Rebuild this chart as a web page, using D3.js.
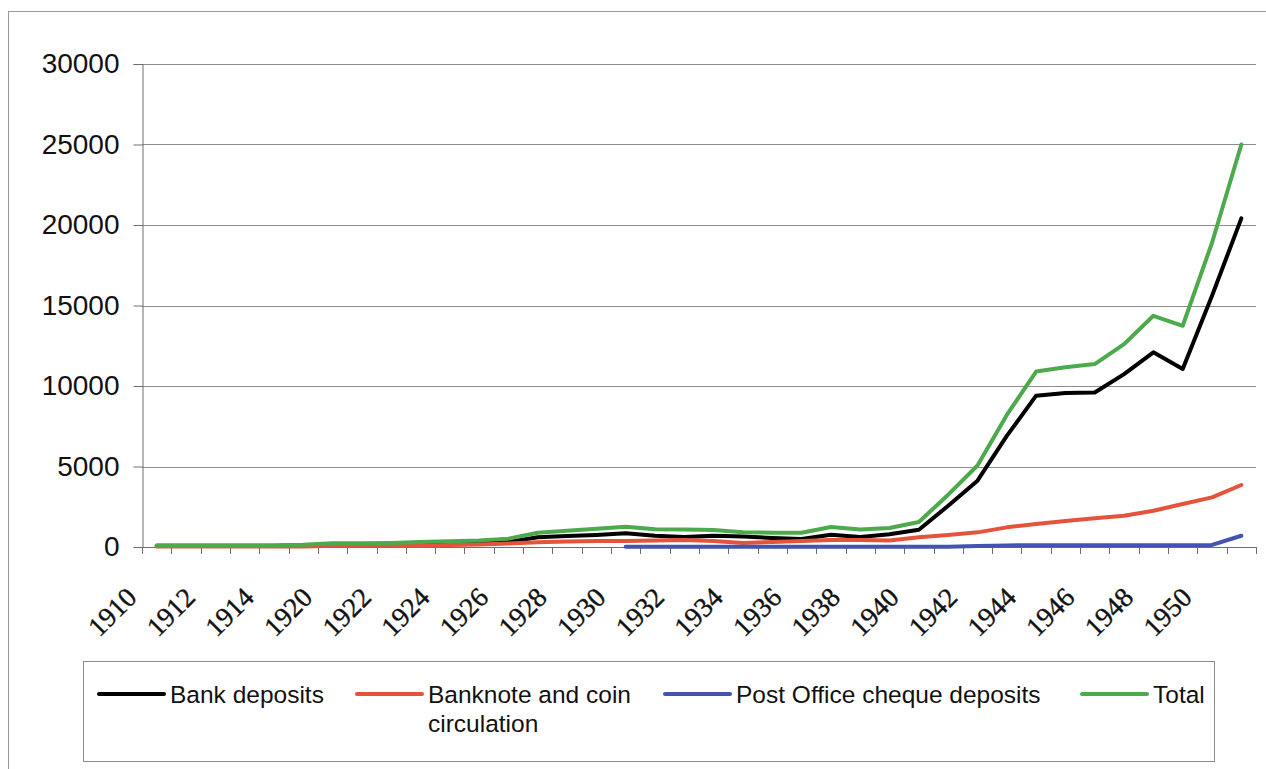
<!DOCTYPE html>
<html>
<head>
<meta charset="utf-8">
<script src="https://cdn.jsdelivr.net/npm/d3@7"></script>
<style>
  html, body { margin: 0; padding: 0; background: #fff; }
  svg { display: block; }
</style>
</head>
<body>
<svg id="chart" width="1266" height="769"></svg>
<script>
// Money supply components, 1910–1951
const categories = [
  "1910","1911","1912","1913","1914","1919","1920","1921","1922","1923",
  "1924","1925","1926","1927","1928","1929","1930","1931","1932","1933",
  "1934","1935","1936","1937","1938","1939","1940","1941","1942","1943",
  "1944","1945","1946","1947","1948","1949","1950","1951"
];

const bankDeposits = [
  70, 70, 70, 70, 70, 110, 150, 150, 170, 230,
  230, 250, 310, 600, 680, 745, 850, 700, 620, 700,
  650, 560, 500, 760, 620, 790, 1075, 2560, 4120, 6900,
  9400, 9560, 9600, 10740, 12090, 11050, 15600, 20410
];

const banknoteCoin = [
  30, 30, 30, 30, 30, 30, 80, 80, 80, 80,
  120, 150, 210, 290, 335, 375, 375, 400, 440, 375,
  250, 310, 375, 440, 440, 400, 600, 745, 910, 1220,
  1430, 1610, 1780, 1940, 2250, 2670, 3080, 3850
];

const postOfficeCheque = [
  null, null, null, null, null, null, null, null, null, null,
  null, null, null, null, null, null, 20, 20, 20, 20,
  20, 20, 20, 20, 20, 20, 20, 20, 60, 100,
  110, 110, 110, 110, 110, 110, 130, 700
];

const total = [
  100, 100, 100, 100, 100, 140, 230, 230, 250, 310,
  350, 400, 520, 880, 1010, 1140, 1260, 1100, 1080, 1060,
  910, 890, 880, 1240, 1080, 1180, 1550, 3250, 5060, 8200,
  10900, 11160, 11360, 12600, 14360, 13740, 18900, 25000
];

const yTicks = [0, 5000, 10000, 15000, 20000, 25000, 30000];
const xTickLabels = [
  "1910","1912","1914","1920","1922","1924","1926","1928","1930","1932",
  "1934","1936","1938","1940","1942","1944","1946","1948","1950"
];

const seriesNames = ["Bank deposits", "Banknote and coin circulation", "Post Office cheque deposits", "Total"];
const seriesColors = ["#000000", "#e4543c", "#4253b4", "#4caa4c"];
const seriesValues = [bankDeposits, banknoteCoin, postOfficeCheque, total];

const svg = d3.select("#chart");

// Outer chart frame
svg.append("rect")
  .attr("x", 8.5).attr("y", 11.5)
  .attr("width", 1270).attr("height", 780)
  .attr("fill", "none").attr("stroke", "#9a9a9a").attr("stroke-width", 1);

const plot = { left: 142, right: 1256, top: 64, bottom: 547 };

const x = d3.scaleBand().domain(categories).range([plot.left, plot.right]).padding(0);
const y = d3.scaleLinear().domain([0, 30000]).range([plot.bottom, plot.top]);
const cx = c => x(c) + x.bandwidth() / 2;

// Horizontal gridlines
svg.append("g")
  .selectAll("line")
  .data(yTicks.filter(t => t > 0))
  .join("line")
  .attr("x1", plot.left).attr("x2", plot.right)
  .attr("y1", d => Math.round(y(d)) + 0.5).attr("y2", d => Math.round(y(d)) + 0.5)
  .attr("stroke", "#8c8c8c").attr("stroke-width", 1);

// Y axis
const yAxis = d3.axisLeft(y).tickValues(yTicks).tickSize(9).tickPadding(14).tickFormat(d3.format("d"));
const gy = svg.append("g").attr("transform", `translate(${plot.left + 0.5},0)`).call(yAxis);
gy.select(".domain").attr("stroke", "#6e6e6e");
gy.selectAll(".tick line").attr("stroke", "#6e6e6e");
gy.selectAll(".tick text")
  .attr("font-family", "'Liberation Sans', Arial, sans-serif")
  .attr("font-size", 28)
  .attr("fill", "#111");

// X axis: line, boundary ticks, rotated labels on every other category
const gx = svg.append("g");
gx.append("line")
  .attr("x1", plot.left).attr("x2", plot.right)
  .attr("y1", plot.bottom + 0.5).attr("y2", plot.bottom + 0.5)
  .attr("stroke", "#6e6e6e");
const boundaries = categories.map(c => x(c)).concat([x.range()[1]]);
gx.selectAll("line.tick")
  .data(boundaries)
  .join("line")
  .attr("class", "tick")
  .attr("x1", d => Math.round(d) + 0.5).attr("x2", d => Math.round(d) + 0.5)
  .attr("y1", plot.bottom).attr("y2", plot.bottom + 7)
  .attr("stroke", "#6e6e6e");
gx.selectAll("text")
  .data(xTickLabels)
  .join("text")
  .attr("transform", d => `translate(${cx(d) - 18.5},599) rotate(-45)`)
  .attr("text-anchor", "end")
  .attr("font-family", "'Liberation Serif', 'Times New Roman', serif")
  .attr("font-size", 27.5)
  .attr("stroke", "#111")
  .attr("stroke-width", 0.4)
  .attr("fill", "#111")
  .text(d => d);

// Series lines
const line = d3.line()
  .defined(d => d.v !== null)
  .x(d => cx(d.c))
  .y(d => y(d.v));

seriesValues.forEach((vals, i) => {
  const pts = categories.map((c, k) => ({ c, v: vals[k] }));
  svg.append("path")
    .datum(pts)
    .attr("d", line)
    .attr("fill", "none")
    .attr("stroke", seriesColors[i])
    .attr("stroke-width", 4)
    .attr("stroke-linejoin", "round")
    .attr("stroke-linecap", "round");
});

// Legend
const legend = svg.append("g");
legend.append("rect")
  .attr("x", 83.5).attr("y", 661.5)
  .attr("width", 1131).attr("height", 100)
  .attr("fill", "#fff").attr("stroke", "#8c8c8c");

const legendItems = [
  { x: 99, lines: ["Bank deposits"] },
  { x: 357, lines: ["Banknote and coin", "circulation"] },
  { x: 665, lines: ["Post Office cheque deposits"] },
  { x: 1082, lines: ["Total"] }
];

legendItems.forEach((it, i) => {
  legend.append("line")
    .attr("x1", it.x).attr("x2", it.x + 65)
    .attr("y1", 694).attr("y2", 694)
    .attr("stroke", seriesColors[i])
    .attr("stroke-width", 4)
    .attr("stroke-linecap", "round");
  const t = legend.append("text")
    .attr("x", it.x + 71).attr("y", 703)
    .attr("font-family", "'Liberation Sans', Arial, sans-serif")
    .attr("font-size", 24.5)
    .attr("fill", "#111");
  it.lines.forEach((s, k) => {
    t.append("tspan").attr("x", it.x + 71).attr("dy", k === 0 ? 0 : 29).text(s);
  });
});
</script>
</body>
</html>
